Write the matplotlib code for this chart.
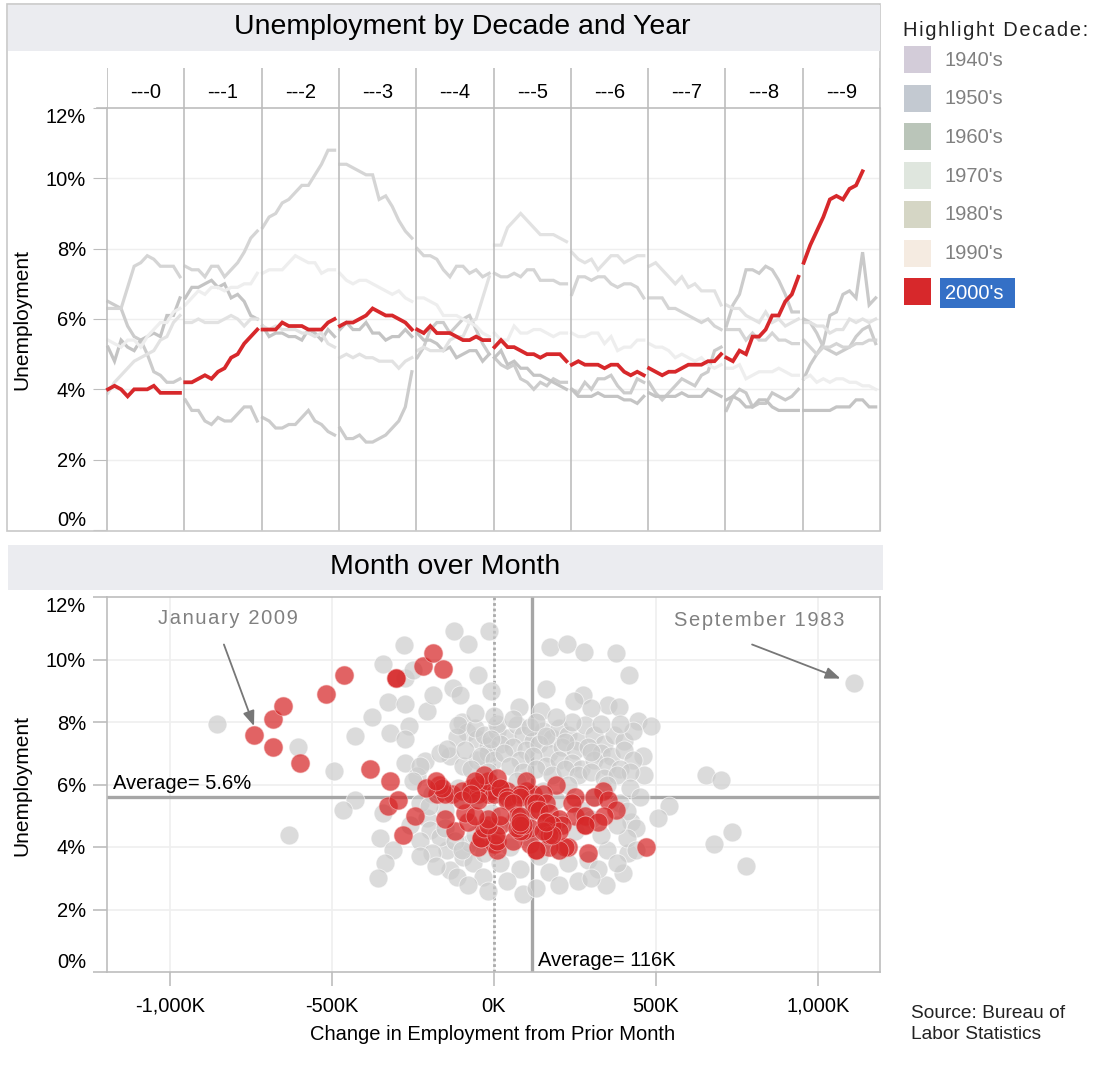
import matplotlib.pyplot as plt
from matplotlib.patches import Rectangle
from matplotlib.lines import Line2D

plt.rcParams['font.family'] = ['Liberation Sans', 'DejaVu Sans']

# ---- data -------------------------------------------------------------
decades = ["1940's", "1950's", "1960's", "1970's", "1980's", "1990's", "2000's"]
year_labels = ['---0', '---1', '---2', '---3', '---4', '---5', '---6', '---7', '---8', '---9']

# monthly unemployment rate (%), one list per year of the decade
u_1940s = [[], [], [], [], [], [], [], [],
           [3.4, 3.8, 4.0, 3.9, 3.5, 3.6, 3.6, 3.9, 3.8, 3.7, 3.8, 4.0],
           [4.3, 4.7, 5.0, 5.3, 6.1, 6.2, 6.7, 6.8, 6.6, 7.9, 6.4, 6.6]]
u_1950s = [[6.5, 6.4, 6.3, 5.8, 5.5, 5.4, 5.0, 4.5, 4.4, 4.2, 4.2, 4.3],
           [3.7, 3.4, 3.4, 3.1, 3.0, 3.2, 3.1, 3.1, 3.3, 3.5, 3.5, 3.1],
           [3.2, 3.1, 2.9, 2.9, 3.0, 3.0, 3.2, 3.4, 3.1, 3.0, 2.8, 2.7],
           [2.9, 2.6, 2.6, 2.7, 2.5, 2.5, 2.6, 2.7, 2.9, 3.1, 3.5, 4.5],
           [4.9, 5.2, 5.7, 5.9, 5.9, 5.6, 5.8, 6.0, 6.1, 5.7, 5.3, 5.0],
           [4.9, 4.7, 4.6, 4.7, 4.3, 4.2, 4.0, 4.2, 4.1, 4.3, 4.2, 4.2],
           [4.0, 3.9, 4.2, 4.0, 4.3, 4.3, 4.4, 4.1, 3.9, 3.9, 4.3, 4.2],
           [4.2, 3.9, 3.7, 3.9, 4.1, 4.3, 4.2, 4.1, 4.4, 4.5, 5.1, 5.2],
           [5.8, 6.4, 6.7, 7.4, 7.4, 7.3, 7.5, 7.4, 7.1, 6.7, 6.2, 6.2],
           [6.0, 5.9, 5.6, 5.2, 5.1, 5.0, 5.1, 5.2, 5.5, 5.7, 5.8, 5.3]]
u_1960s = [[5.2, 4.8, 5.4, 5.2, 5.1, 5.4, 5.5, 5.6, 5.5, 6.1, 6.1, 6.6],
           [6.6, 6.9, 6.9, 7.0, 7.1, 6.9, 7.0, 6.6, 6.7, 6.5, 6.1, 6.0],
           [5.8, 5.5, 5.6, 5.6, 5.5, 5.5, 5.4, 5.7, 5.6, 5.4, 5.7, 5.5],
           [5.7, 5.9, 5.7, 5.7, 5.9, 5.6, 5.6, 5.4, 5.5, 5.5, 5.7, 5.5],
           [5.6, 5.4, 5.4, 5.3, 5.1, 5.2, 4.9, 5.0, 5.1, 5.1, 4.8, 5.0],
           [4.9, 5.1, 4.7, 4.8, 4.6, 4.6, 4.4, 4.4, 4.3, 4.2, 4.1, 4.0],
           [4.0, 3.8, 3.8, 3.8, 3.9, 3.8, 3.8, 3.8, 3.7, 3.7, 3.6, 3.8],
           [3.9, 3.8, 3.8, 3.8, 3.8, 3.9, 3.8, 3.8, 3.8, 4.0, 3.9, 3.8],
           [3.7, 3.8, 3.7, 3.5, 3.5, 3.7, 3.7, 3.5, 3.4, 3.4, 3.4, 3.4],
           [3.4, 3.4, 3.4, 3.4, 3.4, 3.5, 3.5, 3.5, 3.7, 3.7, 3.5, 3.5]]
u_1970s = [[3.9, 4.2, 4.4, 4.6, 4.8, 4.9, 5.0, 5.1, 5.4, 5.5, 5.9, 6.1],
           [5.9, 5.9, 6.0, 5.9, 5.9, 5.9, 6.0, 6.1, 6.0, 5.8, 6.0, 6.0],
           [5.8, 5.7, 5.8, 5.7, 5.7, 5.7, 5.6, 5.6, 5.5, 5.6, 5.3, 5.2],
           [4.9, 5.0, 4.9, 5.0, 4.9, 4.9, 4.8, 4.8, 4.8, 4.6, 4.8, 4.9],
           [5.1, 5.2, 5.1, 5.1, 5.1, 5.4, 5.5, 5.5, 5.9, 6.0, 6.6, 7.2],
           [8.1, 8.1, 8.6, 8.8, 9.0, 8.8, 8.6, 8.4, 8.4, 8.4, 8.3, 8.2],
           [7.9, 7.7, 7.6, 7.7, 7.4, 7.6, 7.8, 7.8, 7.6, 7.7, 7.8, 7.8],
           [7.5, 7.6, 7.4, 7.2, 7.0, 7.2, 6.9, 7.0, 6.8, 6.8, 6.8, 6.4],
           [6.4, 6.3, 6.3, 6.1, 6.0, 5.9, 6.2, 5.9, 6.0, 5.8, 5.9, 6.0],
           [5.9, 5.9, 5.8, 5.8, 5.6, 5.7, 5.7, 6.0, 5.9, 6.0, 5.9, 6.0]]
u_1980s = [[6.3, 6.3, 6.3, 6.9, 7.5, 7.6, 7.8, 7.7, 7.5, 7.5, 7.5, 7.2],
           [7.5, 7.4, 7.4, 7.2, 7.5, 7.5, 7.2, 7.4, 7.6, 7.9, 8.3, 8.5],
           [8.6, 8.9, 9.0, 9.3, 9.4, 9.6, 9.8, 9.8, 10.1, 10.4, 10.8, 10.8],
           [10.4, 10.4, 10.3, 10.2, 10.1, 10.1, 9.4, 9.5, 9.2, 8.8, 8.5, 8.3],
           [8.0, 7.8, 7.8, 7.7, 7.4, 7.2, 7.5, 7.5, 7.3, 7.4, 7.2, 7.3],
           [7.3, 7.2, 7.2, 7.3, 7.2, 7.4, 7.4, 7.1, 7.1, 7.1, 7.0, 7.0],
           [6.7, 7.2, 7.2, 7.1, 7.2, 7.2, 7.0, 6.9, 7.0, 7.0, 6.9, 6.6],
           [6.6, 6.6, 6.6, 6.3, 6.3, 6.2, 6.1, 6.0, 5.9, 6.0, 5.8, 5.7],
           [5.7, 5.7, 5.7, 5.4, 5.6, 5.4, 5.4, 5.6, 5.4, 5.4, 5.3, 5.3],
           [5.4, 5.2, 5.0, 5.2, 5.2, 5.3, 5.2, 5.2, 5.3, 5.3, 5.4, 5.4]]
u_1990s = [[5.4, 5.3, 5.2, 5.4, 5.4, 5.2, 5.5, 5.7, 5.9, 5.9, 6.2, 6.3],
           [6.4, 6.6, 6.8, 6.7, 6.9, 6.9, 6.8, 6.9, 6.9, 7.0, 7.0, 7.3],
           [7.3, 7.4, 7.4, 7.4, 7.6, 7.8, 7.7, 7.6, 7.6, 7.3, 7.4, 7.4],
           [7.3, 7.1, 7.0, 7.1, 7.1, 7.0, 6.9, 6.8, 6.7, 6.8, 6.6, 6.5],
           [6.6, 6.6, 6.5, 6.4, 6.1, 6.1, 6.1, 6.0, 5.9, 5.8, 5.6, 5.5],
           [5.6, 5.4, 5.4, 5.8, 5.6, 5.6, 5.7, 5.7, 5.6, 5.5, 5.6, 5.6],
           [5.6, 5.5, 5.5, 5.6, 5.6, 5.3, 5.5, 5.1, 5.2, 5.2, 5.4, 5.4],
           [5.3, 5.2, 5.2, 5.1, 4.9, 5.0, 4.9, 4.8, 4.9, 4.7, 4.6, 4.7],
           [4.6, 4.6, 4.7, 4.3, 4.4, 4.5, 4.5, 4.5, 4.6, 4.5, 4.4, 4.4],
           [4.3, 4.4, 4.2, 4.3, 4.2, 4.3, 4.3, 4.2, 4.2, 4.1, 4.1, 4.0]]
u_2000s = [[4.0, 4.1, 4.0, 3.8, 4.0, 4.0, 4.0, 4.1, 3.9, 3.9, 3.9, 3.9],
           [4.2, 4.2, 4.3, 4.4, 4.3, 4.5, 4.6, 4.9, 5.0, 5.3, 5.5, 5.7],
           [5.7, 5.7, 5.7, 5.9, 5.8, 5.8, 5.8, 5.7, 5.7, 5.7, 5.9, 6.0],
           [5.8, 5.9, 5.9, 6.0, 6.1, 6.3, 6.2, 6.1, 6.1, 6.0, 5.9, 5.7],
           [5.7, 5.6, 5.8, 5.6, 5.6, 5.6, 5.5, 5.4, 5.4, 5.5, 5.4, 5.4],
           [5.2, 5.4, 5.2, 5.2, 5.1, 5.0, 5.0, 4.9, 5.0, 5.0, 5.0, 4.8],
           [4.7, 4.8, 4.7, 4.7, 4.7, 4.6, 4.7, 4.7, 4.5, 4.4, 4.5, 4.4],
           [4.6, 4.5, 4.4, 4.5, 4.5, 4.6, 4.7, 4.7, 4.7, 4.8, 4.8, 5.0],
           [4.9, 4.8, 5.1, 5.0, 5.5, 5.5, 5.7, 6.1, 6.1, 6.5, 6.7, 7.2],
           [7.6, 8.1, 8.5, 8.9, 9.4, 9.5, 9.4, 9.7, 9.8, 10.2]]

# change in payrolls (K) for the 2000's, same months as u_2000s
chg_2000s = [[230, 110, 470, 290, 220, -50, 170, 0, 130, 10, 200, 130],
             [10, 60, -40, -281, -40, -120, -30, -150, -244, -327, -296, -176],
             [-130, -150, -20, -70, -10, 40, -100, 0, -50, 120, 20, -170],
             [100, -160, -210, -50, -20, -30, 10, -60, 100, 190, 20, 80],
             [150, 40, 337, 250, 310, 80, 40, 120, 160, 352, 60, 130],
             [130, 240, 140, 377, 170, 250, 280, 200, 70, 80, 340, 160],
             [280, 320, 280, 180, 20, 80, 210, 180, 160, 5, 200, 170],
             [110, 90, 180, 80, 150, 70, 90, -20, 80, 160, 80, 20],
             [-20, -80, -90, -60, -50, -100, -70, -180, -321, -383, -598, -681],
             [-741, -681, -652, -519, -303, -463, -304, -157, -219, -188]]

# other decades
gray_change = [-855, -632, -604, -495, -430, -430, -467, -377, -343, -278, -275, -250,
               -327, -275, -207, -188, -128, -104, -48, -8, -125, -79, -14, -321,
               -262, -275, -98, -82, -113, -51, -20, -135, -212, -275, -343, -353,
               -312, -337, -359, -238, -228, -166, -207, -197, -145, -135, -113, -95,
               -64, -33, -73, -166, -113, -95, -51, -20, -145, 172, 225, 278,
               377, 418, 160, 275, 247, 352, 387, 76, 144, 300, 446, 484,
               399, 346, 414, 424, 461, 464, 654, 701, 539, 508, 735, 679,
               778, 1113,
               -110, -60, -30, 10, 40, 70, 90, 120, 150, 180, 200, 230,
               260, 280, 310, 340, 370, 400, 430, 20, 60, 100, 140, 170,
               210, 250, 290, 330, 360, 400, 430, -90, -40, 0, 30, 80,
               120, 160, 200, 240, 270, 310, 350, 390, 420, -70, -20, 50,
               90, 130, 180, 220, 260, 300, 340, 380, 10, 110, 240, 330,
               190, 60, -60, 0, 130, 390, 220, -10, 160, 300,
               -230, -190, -150, -110, -60, -20, 30, 70, 110, 150, 190, 230,
               270, 310, 350, 390, 420, 450, 410, 440, -250, -200, -260, -230,
               -190, -150, -120, -100, -60, -30, 0, 20, 50, 80, 110, 140,
               170, 200, 230, 260, 290, 320, 350, 380, 410, 440, -20, 40,
               90, 130, 200, 300, -80, -180, -230, 60, 160, 250, 330, 380,
               -10, 100, 200, 300]
gray_rate = [7.95, 4.4, 7.2, 6.42, 7.55, 5.5, 5.2, 8.15, 9.87, 10.45, 9.4, 9.65,
             8.65, 8.58, 8.36, 8.88, 9.08, 8.85, 9.49, 8.98, 10.9, 10.5, 10.9, 7.65,
             7.86, 7.45, 8.0, 7.67, 7.52, 7.45, 7.23, 6.9, 6.74, 6.7, 5.1, 4.3,
             3.9, 3.5, 3.0, 6.26, 6.58, 7.0, 4.94, 4.55, 3.9, 3.26, 3.04, 3.68,
             3.48, 3.04, 4.13, 4.32, 5.6, 6.58, 6.8, 7.0, 7.13, 10.4, 10.5, 10.25,
             10.2, 9.5, 9.06, 8.87, 8.66, 8.55, 8.48, 8.48, 8.36, 8.45, 8.03, 7.87,
             3.16, 2.77, 3.8, 4.8, 6.9, 6.32, 6.32, 6.13, 5.3, 4.94, 4.48, 4.1,
             3.39, 9.26,
             7.9, 7.8, 7.6, 7.7, 7.5, 7.9, 7.6, 7.4, 7.7, 7.5, 7.8, 7.6,
             7.4, 7.9, 7.6, 7.3, 7.6, 7.4, 7.7, 7.3, 7.2, 7.1, 7.3, 7.0,
             7.2, 7.1, 7.2, 7.0, 6.9, 7.1, 6.8, 7.1, 6.9, 6.8, 7.0, 6.8,
             6.9, 6.6, 6.8, 6.7, 6.5, 6.8, 6.6, 6.5, 6.4, 6.5, 6.4, 6.6,
             6.4, 6.5, 6.3, 6.5, 6.3, 6.4, 6.2, 6.3, 7.95, 7.85, 8.0, 7.95,
             8.15, 8.1, 8.3, 8.2, 8.0, 7.95, 7.35, 7.45, 7.55, 7.05,
             5.4, 5.7, 5.2, 5.9, 5.5, 6.0, 5.6, 6.1, 5.3, 5.8, 5.5, 6.0,
             5.2, 5.6, 6.0, 5.4, 5.9, 5.6, 5.15, 4.6, 6.1, 5.3, 4.7, 4.2,
             3.8, 4.6, 4.2, 3.9, 4.4, 3.8, 4.6, 3.5, 4.0, 3.3, 4.3, 3.7,
             3.2, 3.9, 3.5, 2.9, 3.6, 3.3, 3.9, 3.5, 4.3, 3.9, 2.6, 2.9,
             2.5, 2.7, 2.8, 3.0, 2.8, 3.4, 3.7, 4.8, 4.1, 4.5, 4.4, 4.7,
             5.1, 5.0, 4.8, 4.9]

avg_rate = 5.6
avg_change = 116
x_ticks = [-1000, -500, 0, 500, 1000]
y_ticks = [0, 2, 4, 6, 8, 10, 12]

# ---- styles -----------------------------------------------------------
decade_data = [u_1940s, u_1950s, u_1960s, u_1970s, u_1980s, u_1990s, u_2000s]
line_colors = ['#c9c9c9', '#cccccc', '#c4c4c4', '#e2e2e2', '#d5d5d5', '#eeeeee', '#d7282b']
legend_colors = ['#d3ccd9', '#c3c9d1', '#bac5b9', '#dfe6de', '#d5d6c5', '#f5ebe1', '#d7282b']
RED = '#d62728'
GRID = '#efefef'
AXIS = '#bdbdbd'
FS = 14.5

W, H = 1100, 1074
fig = plt.figure(figsize=(11, 10.74), dpi=100)


def fbox(x0, y0, x1, y1):
    return [x0 / W, 1 - y1 / H, (x1 - x0) / W, (y1 - y0) / H]


def frect(x0, y0, x1, y1, **kw):
    r = Rectangle((x0 / W, 1 - y1 / H), (x1 - x0) / W, (y1 - y0) / H,
                  transform=fig.transFigure, **kw)
    fig.add_artist(r)


def fline(x0, y0, x1, y1, **kw):
    fig.add_artist(Line2D([x0 / W, x1 / W], [1 - y0 / H, 1 - y1 / H],
                          transform=fig.transFigure, **kw))


def ftext(x, y, s, **kw):
    fig.text(x / W, 1 - y / H, s, **kw)


def spaced(s):
    return '\u200a'.join(s)


def pct(a):
    return ['%d%%' % v for v in a]


# ---- top panel --------------------------------------------------------
frect(7, 4, 880, 531, facecolor='none', edgecolor='#c8c8c8', lw=1.2)
frect(8, 5, 880, 51, facecolor='#ebecf0', edgecolor='none')
ftext(462, 27, 'Unemployment by Decade and Year', fontsize=20.5, ha='center', va='center')

hdr = fig.add_axes(fbox(107, 68, 880, 108))
hdr.set_xlim(0, 10)
hdr.set_ylim(0, 1)
hdr.axis('off')
for i, lab in enumerate(year_labels):
    hdr.axvline(i, color=AXIS, lw=1.2)
    hdr.text(i + 0.5, 0.375, lab, ha='center', va='center', fontsize=FS)
hdr.axvline(10, color=AXIS, lw=1.2)
fline(97, 108, 880, 108, color=AXIS, lw=1.2)

col_w = (880 - 107) / 10
cols = []
for i in range(10):
    ax = fig.add_axes(fbox(107 + i * col_w, 108, 107 + (i + 1) * col_w, 530))
    ax.set_xlim(-0.15, 11.66)
    ax.set_ylim(0, 12)
    ax.set_yticks(y_ticks)
    ax.set_xticks([])
    for y in y_ticks[1:-1]:
        ax.axhline(y, color=GRID, lw=1, zorder=0)
    for s in ['top', 'right', 'bottom']:
        ax.spines[s].set_visible(False)
    ax.spines['left'].set_color(AXIS)
    ax.spines['left'].set_linewidth(1.2)
    if i == 9:
        ax.spines['right'].set_visible(True)
        ax.spines['right'].set_color(AXIS)
    if i == 0:
        ax.set_yticklabels(pct(y_ticks))
        ax.tick_params(axis='y', length=10, color=AXIS, labelsize=FS, pad=5)
        labs = ax.get_yticklabels()
        labs[0].set_va('bottom')
        labs[-1].set_va('top')
    else:
        ax.tick_params(axis='y', length=0, labelleft=False)
    cols.append(ax)

for d, data in enumerate(decade_data):
    is_red = d == len(decade_data) - 1
    for i, vals in enumerate(data):
        if not vals:
            continue
        cols[i].plot(range(len(vals)), vals, color=line_colors[d],
                     lw=2.7 if is_red else 2.3, solid_joinstyle='miter',
                     zorder=3 if is_red else 2, clip_on=False)

ftext(22, 319, 'Unemployment', rotation=90, fontsize=15, ha='center', va='center')

# ---- legend -----------------------------------------------------------
ftext(903, 30, spaced('Highlight Decade:'), fontsize=FS, va='center', color='#222222')
for k, dec in enumerate(decades):
    top = 46 + k * 38.7
    frect(904, top, 931, top + 27, facecolor=legend_colors[k], edgecolor='none')
    if k == len(decades) - 1:
        frect(940, top, 1015, top + 30, facecolor='#3470c6', edgecolor='none')
        ftext(945, top + 15, dec, fontsize=FS, va='center', color='white')
    else:
        ftext(945, top + 14, dec, fontsize=FS, va='center', color='#808080')

# ---- bottom panel -----------------------------------------------------
frect(8, 545, 883, 590, facecolor='#ebecf0', edgecolor='none')
ftext(445, 567, 'Month over Month', fontsize=20.5, ha='center', va='center')

ax2 = fig.add_axes(fbox(107, 597, 880, 972))
ax2.set_xlim(-1195, 1192)
ax2.set_ylim(0, 12)
ax2.set_xticks(x_ticks)
ax2.set_xticklabels(['{:,}K'.format(v) for v in x_ticks])
ax2.set_yticks(y_ticks)
ax2.set_yticklabels(pct(y_ticks))
ax2.tick_params(length=10, color=AXIS, labelsize=FS, width=1.2)
ax2.tick_params(axis='x', pad=8)
ax2.tick_params(axis='y', pad=5)
labs = ax2.get_yticklabels()
labs[0].set_va('bottom')
labs[-1].set_va('top')
for s in ax2.spines.values():
    s.set_color(AXIS)
    s.set_linewidth(1.2)
for v in x_ticks:
    ax2.axvline(v, color=GRID, lw=1.2, zorder=0)
for v in y_ticks[1:-1]:
    ax2.axhline(v, color=GRID, lw=1.2, zorder=0)

ax2.axvline(0, color='#aaaaaa', lw=2, ls=(0, (1, 1)), zorder=1)
ax2.axhline(avg_rate, color='#a6a6a6', lw=2.4, zorder=1)
ax2.axvline(avg_change, color='#a6a6a6', lw=2.4, zorder=1)

ax2.scatter(gray_change, gray_rate, s=185, c='#cbcbcb', alpha=0.68,
            edgecolors='white', linewidths=0.6, zorder=3)
red_x = [v for yr in chg_2000s for v in yr]
red_y = [v for yr in u_2000s for v in yr]
ax2.scatter(red_x, red_y, s=185, c=RED, alpha=0.72,
            edgecolors='#f4c0c0', linewidths=0.5, zorder=4)

ax2.annotate(f'Average= {avg_rate}%', xy=(0, avg_rate), xycoords=('axes fraction', 'data'),
             xytext=(6, 4), textcoords='offset pixels', fontsize=FS, va='bottom', zorder=5)
ax2.annotate(f'Average= {avg_change}K', xy=(avg_change, 0), xycoords=('data', 'axes fraction'),
             xytext=(6, 2), textcoords='offset pixels', fontsize=FS, va='bottom', zorder=5)

ax2.text(-821, 11.32, spaced('January 2009'), fontsize=FS, color='#808080',
         ha='center', va='center')
ax2.annotate('', xy=(-741, 7.87), xytext=(-834, 10.48),
             arrowprops=dict(arrowstyle='-|>,head_length=0.9,head_width=0.35',
                             color='#777777', lw=1.3, shrinkA=0, shrinkB=0))
ax2.text(819, 11.26, spaced('September 1983'), fontsize=FS, color='#808080',
         ha='center', va='center')
ax2.annotate('', xy=(1070, 9.39), xytext=(797, 10.48),
             arrowprops=dict(arrowstyle='-|>,head_length=0.9,head_width=0.35',
                             color='#777777', lw=1.3, shrinkA=0, shrinkB=0))

ftext(22, 785, 'Unemployment', rotation=90, fontsize=15, ha='center', va='center')
ftext(493, 1035, 'Change in Employment from Prior Month', fontsize=FS,
      ha='center', va='center')
ftext(911, 1024, 'Source: Bureau of\nLabor Statistics', fontsize=13.8,
      va='center', linespacing=1.25, color='#222222')

fig.savefig('out.png', dpi=100)
